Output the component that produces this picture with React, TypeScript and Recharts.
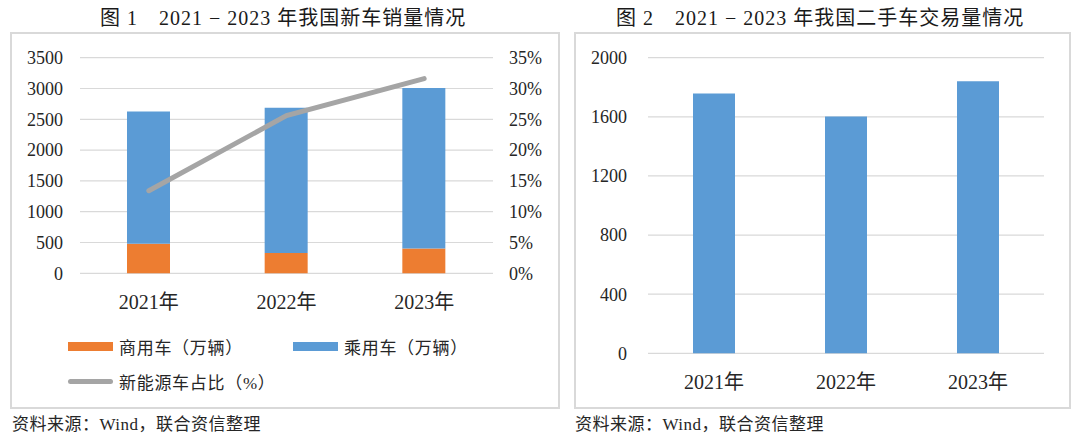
import React from 'react';
import {
  ComposedChart,
  BarChart,
  Bar,
  Line,
  XAxis,
  YAxis,
  CartesianGrid,
  Legend,
} from 'recharts';

const years = ['2021年', '2022年', '2023年'];
const commercialSales = [479, 330, 403];
const passengerSales = [2148, 2356, 2606];
const nevShare = [13.4, 25.6, 31.6];
const usedCarTrades = [1758, 1602, 1841];

const salesTicks = [0, 500, 1000, 1500, 2000, 2500, 3000, 3500];
const shareTicks = [0, 5, 10, 15, 20, 25, 30, 35];
const tradeTicks = [0, 400, 800, 1200, 1600, 2000];

const seriesNames = ['商用车（万辆）', '乘用车（万辆）', '新能源车占比（%）'];

const FONT = "'Liberation Serif', 'Times New Roman', 'Noto Sans CJK SC', serif";
const TEXT = '#262626';
const GRID = '#d9d9d9';
const ORANGE = '#ED7D31';
const BLUE = '#5B9BD5';
const GREY = '#A5A5A5';

const salesData = years.map((year, i) => ({
  year,
  commercial: commercialSales[i],
  passenger: passengerSales[i],
  share: nevShare[i],
}));

const tradeData = years.map((year, i) => ({ year, trades: usedCarTrades[i] }));

const yTick = { fill: TEXT, fontSize: 18, fontFamily: FONT };
const xTick = { fill: TEXT, fontSize: 20, fontFamily: FONT };

const renderSalesLegend = (props: any) => {
  const payload = [...(props.payload || [])].sort(
    (a: any, b: any) => seriesNames.indexOf(a.value) - seriesNames.indexOf(b.value)
  );
  return (
    <div style={{ display: 'flex', flexWrap: 'wrap', width: 460 }}>
      {payload.map((entry: any) => (
        <div
          key={entry.value}
          style={{ width: 225, height: 35, display: 'flex', alignItems: 'center' }}
        >
          <span
            style={{
              display: 'inline-block',
              width: 45,
              height: entry.type === 'line' ? 5 : 9,
              borderRadius: entry.type === 'line' ? 3 : 0,
              background: entry.color,
              marginRight: 6,
            }}
          />
          <span style={{ fontSize: 17, letterSpacing: 0.7, color: TEXT, fontFamily: FONT }}>
            {entry.value}
          </span>
        </div>
      ))}
    </div>
  );
};

const panel = (left: number, width: number): React.CSSProperties => ({
  position: 'absolute',
  left,
  top: 32,
  width,
  height: 377,
  border: `2px solid ${GRID}`,
  boxSizing: 'border-box',
});

const titleStyle = (left: number): React.CSSProperties => ({
  position: 'absolute',
  left,
  top: 8,
  fontSize: 20,
  lineHeight: '20px',
  letterSpacing: 1,
  color: '#1a1a1a',
  whiteSpace: 'nowrap',
});

const footStyle = (left: number): React.CSSProperties => ({
  position: 'absolute',
  left,
  top: 416,
  fontSize: 17,
  lineHeight: '18px',
  letterSpacing: 0.5,
  color: TEXT,
  whiteSpace: 'nowrap',
});

export default function App() {
  return (
    <div
      style={{
        position: 'absolute',
        left: 0,
        top: 0,
        width: 1080,
        height: 440,
        background: '#fff',
        fontFamily: FONT,
        overflow: 'hidden',
      }}
    >
      <div style={titleStyle(100)}>图 1　2021 − 2023 年我国新车销量情况</div>
      <div style={titleStyle(616)}>图 2　2021 − 2023 年我国二手车交易量情况</div>

      <div style={panel(10, 550)} />
      <div style={panel(574, 497)} />

      <div style={{ position: 'absolute', left: 10, top: 32 }}>
        <ComposedChart
          width={550}
          height={377}
          data={salesData}
          margin={{ top: 25.7, right: 0, bottom: 105.7, left: 0 }}
          style={{ fontFamily: FONT }}
        >
          <CartesianGrid yAxisId="left" vertical={false} stroke={GRID} strokeWidth={1.2} />
          <XAxis
            dataKey="year"
            height={30}
            axisLine={false}
            tickLine={false}
            tickSize={0}
            tickMargin={21}
            tick={xTick}
          />
          <YAxis
            yAxisId="left"
            width={70}
            domain={[0, 3500]}
            ticks={salesTicks}
            axisLine={false}
            tickLine={false}
            tickSize={0}
            tickMargin={17}
            tick={yTick}
          />
          <YAxis
            yAxisId="right"
            orientation="right"
            width={67}
            domain={[0, 35]}
            ticks={shareTicks}
            axisLine={false}
            tickLine={false}
            tickSize={0}
            tickMargin={16}
            tick={yTick}
            tickFormatter={(v: number) => `${v}%`}
          />
          <Bar
            yAxisId="left"
            dataKey="commercial"
            name={seriesNames[0]}
            stackId="sales"
            fill={ORANGE}
            barSize={43}
            isAnimationActive={false}
          />
          <Bar
            yAxisId="left"
            dataKey="passenger"
            name={seriesNames[1]}
            stackId="sales"
            fill={BLUE}
            barSize={43}
            isAnimationActive={false}
          />
          <Line
            yAxisId="right"
            dataKey="share"
            name={seriesNames[2]}
            type="linear"
            stroke={GREY}
            strokeWidth={5}
            strokeLinecap="round"
            dot={false}
            activeDot={false}
            isAnimationActive={false}
          />
          <Legend
            layout="horizontal"
            verticalAlign="middle"
            align="center"
            wrapperStyle={{ left: 58, top: 297, width: 460 }}
            content={renderSalesLegend}
          />
        </ComposedChart>
      </div>

      <div style={{ position: 'absolute', left: 574, top: 32 }}>
        <BarChart
          width={497}
          height={377}
          data={tradeData}
          margin={{ top: 25.7, right: 27, bottom: 25.7, left: 0 }}
          style={{ fontFamily: FONT }}
        >
          <CartesianGrid vertical={false} stroke={GRID} strokeWidth={1.2} />
          <XAxis
            dataKey="year"
            height={30}
            axisLine={false}
            tickLine={false}
            tickSize={0}
            tickMargin={21}
            tick={xTick}
          />
          <YAxis
            width={74}
            domain={[0, 2000]}
            ticks={tradeTicks}
            axisLine={false}
            tickLine={false}
            tickSize={0}
            tickMargin={21}
            tick={yTick}
          />
          <Bar dataKey="trades" fill={BLUE} barSize={42} isAnimationActive={false} />
        </BarChart>
      </div>

      <div style={footStyle(12)}>资料来源：Wind，联合资信整理</div>
      <div style={footStyle(575)}>资料来源：Wind，联合资信整理</div>
    </div>
  );
}
